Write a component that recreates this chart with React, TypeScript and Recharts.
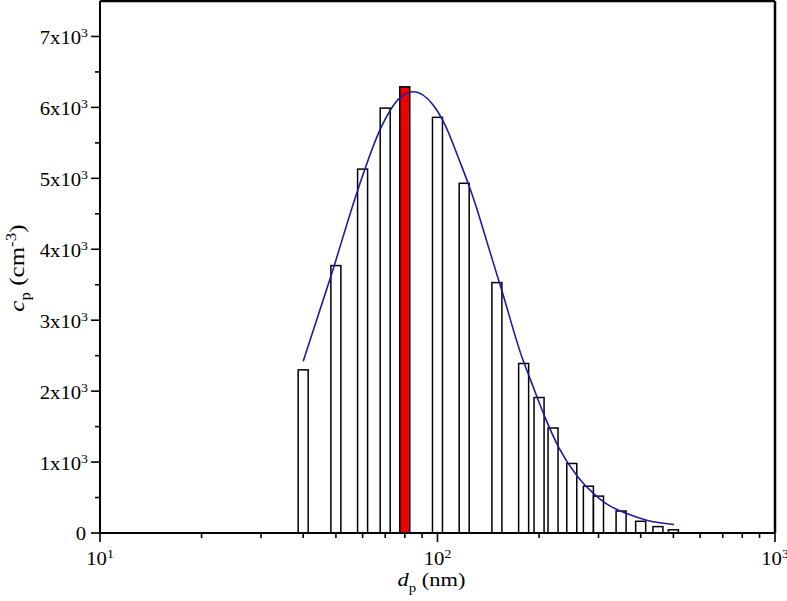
import React from 'react';
import { ComposedChart, Bar, Line, XAxis, YAxis } from 'recharts';

// Particle size distribution (bars) and its fitted curve
const diameters = [40, 50, 60, 70, 80, 100, 120, 150, 180, 200, 220, 250, 280, 300, 350, 400, 450, 500];
const concentrations = [2300, 3770, 5130, 5990, 6290, 5860, 4930, 3530, 2390, 1910, 1480, 980, 660, 520, 310, 165, 90, 45];
const highlightedDiameter = 80;

const fitDiameters = [40, 48.4, 58, 67.8, 77.6, 85, 96.8, 104.4, 116.4, 125.6, 134.2, 140.4, 155.5, 178.2, 187.9, 208.7, 229.6, 260.6, 292.4, 314.4, 365.5, 416.8, 502];
const fitConcentrations = [2420, 3630, 4830, 5700, 6140, 6220, 6040, 5790, 5240, 4820, 4400, 4090, 3400, 2470, 2180, 1620, 1190, 790, 540, 420, 270, 180, 120];

const xMajorTicks = [10, 100, 1000];
const xTicks = [10, 20, 30, 40, 50, 60, 70, 80, 90, 100, 200, 300, 400, 500, 600, 700, 800, 900, 1000];
const yTicks = [0, 500, 1000, 1500, 2000, 2500, 3000, 3500, 4000, 4500, 5000, 5500, 6000, 6500, 7000];

const barData = diameters.map((d, i) => ({ d, c: concentrations[i] }));
const fitData = fitDiameters.map((d, i) => ({ d, fit: fitConcentrations[i] }));

const FONT = '"Liberation Serif", "Times New Roman", serif';
const STRETCH = 1.15;

const XTick = (props: any) => {
  const { x, y, payload } = props;
  const v = payload.value;
  const major = xMajorTicks.includes(v);
  const exp = Math.round(Math.log10(v));
  return (
    <g>
      <line x1={x} x2={x} y1={y} y2={y + (major ? 9 : 5)} stroke="#000" strokeWidth={1.6} />
      {major && (
        <text
          transform={`translate(${x} ${y + 32}) scale(${STRETCH} 1)`}
          textAnchor="middle"
          fontFamily={FONT}
          fontSize={18}
          fill="#000"
        >
          10<tspan dy={-7} fontSize={12}>{exp}</tspan>
        </text>
      )}
    </g>
  );
};

const YTick = (props: any) => {
  const { x, y, payload } = props;
  const v = payload.value;
  const major = v % 1000 === 0;
  return (
    <g>
      <line x1={x - (major ? 9 : 5)} x2={x} y1={y} y2={y} stroke="#000" strokeWidth={1.6} />
      {major && v === 0 && (
        <text transform={`translate(${x - 14} ${y + 7}) scale(${STRETCH} 1)`} textAnchor="end" fontFamily={FONT} fontSize={18} fill="#000">
          0
        </text>
      )}
      {major && v !== 0 && (
        <text transform={`translate(${x - 12} ${y + 7.5}) scale(${STRETCH} 1)`} textAnchor="end" fontFamily={FONT} fontSize={18} fill="#000">
          {v / 1000}x10<tspan dy={-7} fontSize={12}>3</tspan>
        </text>
      )}
    </g>
  );
};

const BarShape = (props: any) => {
  const { x, y, width, height, payload } = props;
  if (height == null || isNaN(height)) return null;
  const cx = x + width / 2;
  const red = payload && payload.d === highlightedDiameter;
  return (
    <rect
      x={cx - 5}
      y={y}
      width={10}
      height={height}
      fill={red ? '#ee0000' : '#ffffff'}
      stroke="#000"
      strokeWidth={1.5}
    />
  );
};

const XLabel = (props: any) => {
  const vb = props.viewBox || { x: 100, y: 533, width: 675 };
  const cx = vb.x + vb.width / 2 - 6;
  return (
    <text transform={`translate(${cx} ${vb.y + 53}) scale(${STRETCH} 1)`} textAnchor="middle" fontFamily={FONT} fontSize={19.5} fill="#000">
      <tspan fontStyle="italic">d</tspan>
      <tspan dy={6} fontSize={13}>p</tspan>
      <tspan dy={-6}> (nm)</tspan>
    </text>
  );
};

const YLabel = (props: any) => {
  const vb = props.viewBox || { x: 40, y: 1, height: 532 };
  const cy = vb.y + vb.height / 2 + 1;
  return (
    <text transform={`translate(24 ${cy}) rotate(-90) scale(1.22 1)`} textAnchor="middle" fontFamily={FONT} fontSize={20.5} fill="#000">
      <tspan fontStyle="italic">c</tspan>
      <tspan dy={6} fontSize={14}>p</tspan>
      <tspan dy={-6}> (cm</tspan>
      <tspan dy={-8} fontSize={14}>-3</tspan>
      <tspan dy={8}>)</tspan>
    </text>
  );
};

export default function App() {
  return (
    <div style={{ position: 'absolute', left: 0, top: 0, width: 787, height: 601, background: '#fff' }}>
      <ComposedChart
        width={787}
        height={601}
        data={barData}
        margin={{ top: 0, right: 11, bottom: 38, left: 40 }}
        style={{ fontFamily: FONT }}
      >
        <XAxis
          xAxisId="main"
          dataKey="d"
          type="number"
          scale="log"
          domain={[10, 1000]}
          allowDataOverflow
          ticks={xTicks}
          interval={0}
          tick={<XTick />}
          tickLine={false}
          tickSize={0}
          tickMargin={0}
          height={30}
          axisLine={{ stroke: '#000', strokeWidth: 2 }}
          label={<XLabel />}
        />
        <XAxis
          xAxisId="top"
          orientation="top"
          dataKey="d"
          type="number"
          scale="log"
          domain={[10, 1000]}
          allowDataOverflow
          tick={false}
          tickLine={false}
          height={1}
          axisLine={{ stroke: '#000', strokeWidth: 2.5 }}
        />
        <YAxis
          yAxisId="main"
          type="number"
          domain={[0, 7500]}
          allowDataOverflow
          ticks={yTicks}
          interval={0}
          tick={<YTick />}
          tickLine={false}
          tickSize={0}
          tickMargin={0}
          width={60}
          axisLine={{ stroke: '#000', strokeWidth: 2 }}
          label={<YLabel />}
        />
        <YAxis
          yAxisId="right"
          orientation="right"
          type="number"
          domain={[0, 7500]}
          allowDataOverflow
          tick={false}
          tickLine={false}
          width={1}
          axisLine={{ stroke: '#000', strokeWidth: 2.5 }}
        />
        <Bar
          xAxisId="main"
          yAxisId="main"
          dataKey="c"
          barSize={10}
          shape={<BarShape />}
          isAnimationActive={false}
        />
        <Line
          xAxisId="main"
          yAxisId="main"
          data={fitData}
          dataKey="fit"
          type="monotone"
          stroke="#1c1ca0"
          strokeWidth={1.6}
          dot={false}
          activeDot={false}
          isAnimationActive={false}
        />
      </ComposedChart>
    </div>
  );
}
